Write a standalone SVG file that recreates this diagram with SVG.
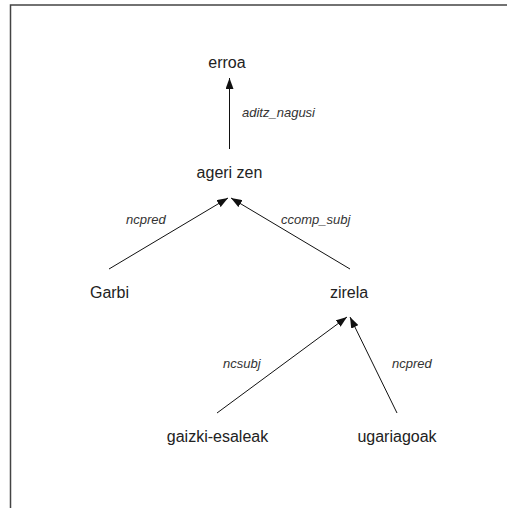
<svg xmlns="http://www.w3.org/2000/svg" width="507" height="508" viewBox="0 0 507 508">
  <style>
    .node { font-family: "Liberation Sans", Arial, sans-serif; font-size: 16px; fill: #222; text-anchor: middle; }
    .lbl { font-family: "Liberation Sans", Arial, sans-serif; font-size: 13px; font-style: italic; fill: #333; }
    .edge { stroke: #111; stroke-width: 1; fill: none; marker-end: url(#arrow); }
    .frame { stroke: #444; stroke-width: 1.5; fill: none; }
  </style>
  <defs>
    <marker id="arrow" markerUnits="userSpaceOnUse" markerWidth="12" markerHeight="8" viewBox="0 0 12 8" refX="11" refY="4" orient="auto">
      <path d="M0,0 L11,4 L0,8 Z" fill="#111"/>
    </marker>
  </defs>
  <rect width="507" height="508" fill="#fff"/>
  <path class="frame" d="M10.5,508 V5 H507"/>

  <g id="connectors">
    <line class="edge" x1="229.5" y1="149" x2="229.5" y2="78"/>
    <line class="edge" x1="109" y1="269" x2="228" y2="198"/>
    <line class="edge" x1="350" y1="269" x2="231" y2="198"/>
    <line class="edge" x1="217" y1="413" x2="347" y2="317"/>
    <line class="edge" x1="397" y1="413" x2="350" y2="317"/>
    <text class="lbl" x="242" y="117">aditz_nagusi</text>
    <text class="lbl" x="126" y="224">ncpred</text>
    <text class="lbl" x="281" y="224">ccomp_subj</text>
    <text class="lbl" x="223" y="368">ncsubj</text>
    <text class="lbl" x="392" y="368">ncpred</text>
  </g>

  <g id="erroa"><text class="node" x="227" y="68">erroa</text></g>
  <g id="ageri-zen"><text class="node" x="229.5" y="178">ageri zen</text></g>
  <g id="garbi"><text class="node" x="109.5" y="298">Garbi</text></g>
  <g id="zirela"><text class="node" x="349" y="298">zirela</text></g>
  <g id="gaizki-esaleak"><text class="node" x="217.5" y="442">gaizki-esaleak</text></g>
  <g id="ugariagoak"><text class="node" x="397" y="442">ugariagoak</text></g>
</svg>
